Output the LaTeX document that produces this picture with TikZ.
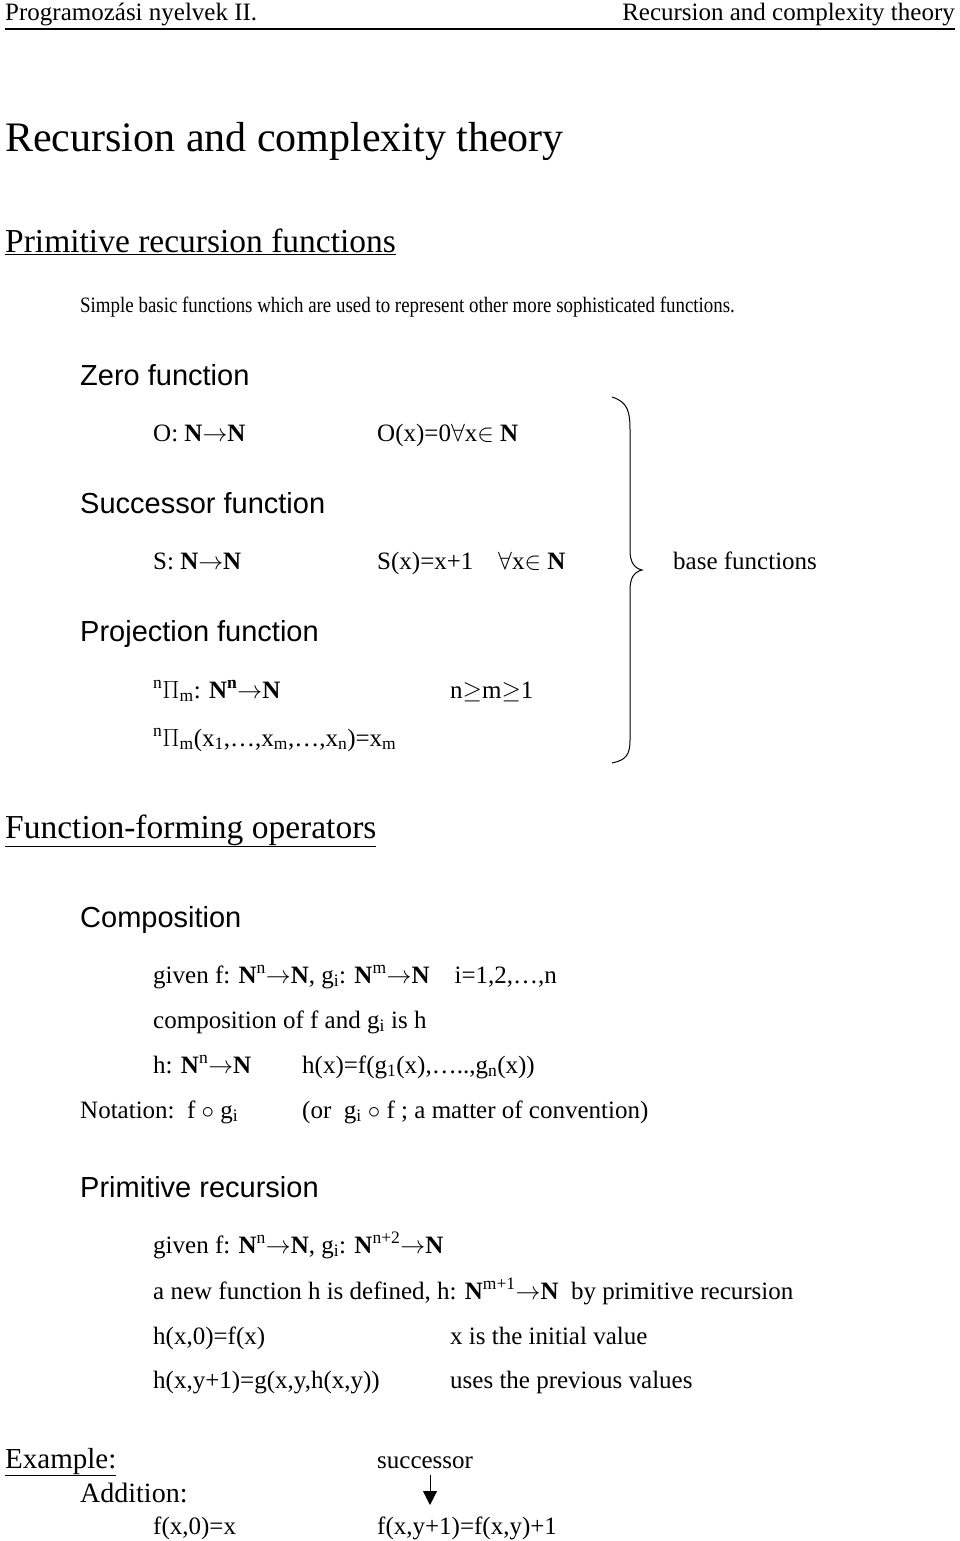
\documentclass[tikz,border=0pt]{standalone}
\usepackage{fontspec}
\setmainfont{Liberation Serif}
\newfontfamily\arialf{Liberation Sans}
\usetikzlibrary{arrows.meta}
\newcommand{\fs}[1]{\fontsize{#1}{#1}\selectfont}
\newcommand{\NN}{\textbf{N}}
\newcommand{\ar}{$\rightarrow$}
\tikzset{t/.style={anchor=base west,inner sep=0pt,font=\fs{25}},
 hd/.style={anchor=base west,inner sep=0pt,font=\arialf\fs{29}},
 sec/.style={anchor=base west,inner sep=0pt,font=\fs{33.5}}}
\begin{document}
\begin{tikzpicture}[x=1pt,y=-1pt]
\useasboundingbox (0,0) rectangle (960,1541);
\node[anchor=base west,inner sep=0pt,font=\fs{25}] (h1) at (5,21) {Programozási nyelvek II.};
\node[anchor=base east,inner sep=0pt,font=\fs{25}] (h2) at (955,21) {Recursion and complexity theory};
\draw[line width=1.2pt] (5,29) -- (955,29);
\node[anchor=base west,inner sep=0pt,font=\fs{42}] (title) at (5,152) {Recursion and complexity theory};
\node[sec] (prf) at (5,252) {\underline{Primitive recursion functions}};
\node[anchor=base west,inner sep=0pt,font=\fs{22}] (simple) at (80,312) {\scalebox{0.86}[1]{Simple basic functions which are used to represent other more sophisticated functions.}};
\node[hd] (zero) at (80,385) {Zero function};
\node[t] (o1) at (153,441) {O: \NN\ar\NN};
\node[t] (o2) at (377,441) {O(x)=0$\forall$x$\in$ \NN};
\node[hd] (succ) at (80,513) {Successor function};
\node[t] (s1) at (153,569) {S: \NN\ar\NN};
\node[t] (s2) at (377,569) {S(x)=x+1};
\node[t] (s3) at (498,569) {$\forall$x$\in$ \NN};
\node[t] (base) at (673,569) {base functions};
\node[hd] (proj) at (80,641) {Projection function};
\node[t] (p1) at (153,698) {\textsuperscript{n}$\Pi$\textsubscript{m}: \NN\textsuperscript{\textbf{n}}\ar\NN};
\node[t] (p2) at (450,698) {n$\geq$m$\geq$1};
\node[t] (p3) at (153,746) {\textsuperscript{n}$\Pi$\textsubscript{m}(x\textsubscript{1},\dots,x\textsubscript{m},\dots,x\textsubscript{n})=x\textsubscript{m}};
\draw[line width=1pt] (612,397) .. controls (628,402) and (630,412) .. (630,430) -- (630,550)
  .. controls (630,562) and (634,568) .. (642,570) .. controls (634,572) and (630,578) .. (630,590)
  -- (630,740) .. controls (630,755) and (626,760) .. (612,763);
\node[sec] (ffo) at (5,838) {\underline{Function-forming operators}};
\node[hd] (comp) at (80,927) {Composition};
\node[t] (c1) at (153,983) {given f: \NN\textsuperscript{n}\ar\NN, g\textsubscript{i}: \NN\textsuperscript{m}\ar\NN\quad i=1,2,\dots,n};
\node[t] (c2) at (153,1028) {composition of f and g\textsubscript{i} is h};
\node[t] (c3) at (153,1073) {h: \NN\textsuperscript{n}\ar\NN};
\node[t] (c4) at (302,1073) {h(x)=f(g\textsubscript{1}(x),\dots..,g\textsubscript{n}(x))};
\node[t] (c5) at (80,1118) {Notation:\ \ f $\circ$ g\textsubscript{i}};
\node[t] (c6) at (302,1118) {(or\ \ g\textsubscript{i} $\circ$ f ; a matter of convention)};
\node[hd] (prim) at (80,1197) {Primitive recursion};
\node[t] (r1) at (153,1253) {given f: \NN\textsuperscript{n}\ar\NN, g\textsubscript{i}: \NN\textsuperscript{n+2}\ar\NN};
\node[t] (r2) at (153,1299) {a new function h is defined, h: \NN\textsuperscript{m+1}\ar\NN\ \ by primitive recursion};
\node[t] (r3) at (153,1344) {h(x,0)=f(x)};
\node[t] (r4) at (450,1344) {x is the initial value};
\node[t] (r5) at (153,1388) {h(x,y+1)=g(x,y,h(x,y))};
\node[t] (r6) at (450,1388) {uses the previous values};
\node[anchor=base west,inner sep=0pt,font=\fs{29}] (ex) at (5,1468) {\underline{Example:}};
\node[anchor=base west,inner sep=0pt,font=\fs{28}] (add) at (80,1502) {Addition:};
\node[t] (e1) at (153,1534) {f(x,0)=x};
\node[t] (e2) at (377,1534) {f(x,y+1)=f(x,y)+1};
\node[t] (sc) at (377,1468) {successor};
\draw[line width=1pt,-{Triangle[length=14pt,width=14pt]}] (430,1475) -- (430,1505);
\end{tikzpicture}
\end{document}
